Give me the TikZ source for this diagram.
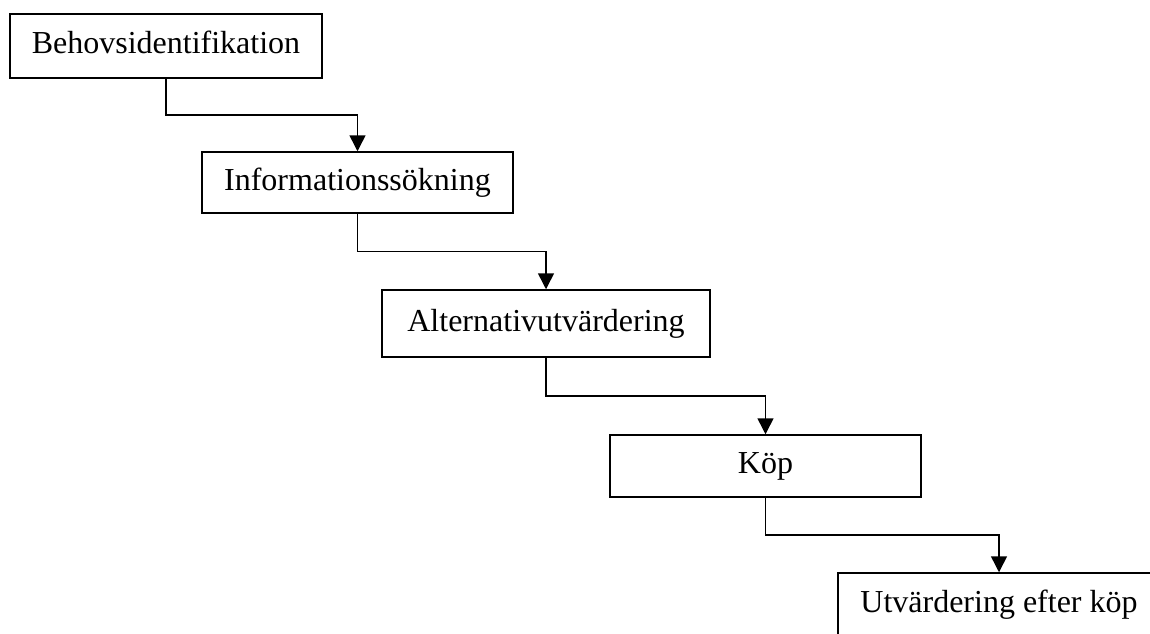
\documentclass[tikz,border=0pt]{standalone}
\usepackage{fontspec}
\setmainfont{Liberation Serif}
\usetikzlibrary{arrows.meta,calc}
\tikzset{
        x=1pt, y=-1pt,
        stage/.style={draw=black, line width=1.5pt, fill=white, rectangle, inner sep=0pt,
          font=\fontsize{32}{38}\selectfont, text height=22pt, text depth=7pt},
        flow/.style={draw=black, line width=1.5pt, -{Triangle[length=16pt,width=16pt]}}
          }
\begin{document}
\begin{tikzpicture}
      \useasboundingbox (0,0) rectangle (1150,633);
      \clip (0,0) rectangle (1150,633);
      \node[stage, minimum width=312pt, minimum height=64pt] (behov) at (166,46) {Behovsidentifikation};
      \node[stage, minimum width=311pt, minimum height=61pt] (info) at (357.5,182.5) {Informationssökning};
      \node[stage, minimum width=328pt, minimum height=67pt] (alt) at (546,323.5) {Alternativutvärdering};
      \node[stage, minimum width=311pt, minimum height=62pt] (kop) at (765.5,466) {Köp};
      \node[stage, minimum width=322pt, minimum height=64pt] (efter) at (999,605) {Utvärdering efter köp};
      \draw[flow] (behov.south) |- ($(behov.south)!0.5!(info.north)$) -| (info.north);
      \draw[flow] (info.south) |- ($(info.south)!0.5!(alt.north)$) -| (alt.north);
      \draw[flow] (alt.south) |- ($(alt.south)!0.5!(kop.north)$) -| (kop.north);
      \draw[flow] (kop.south) |- ($(kop.south)!0.5!(efter.north)$) -| (efter.north);
    \end{tikzpicture}
\end{document}
